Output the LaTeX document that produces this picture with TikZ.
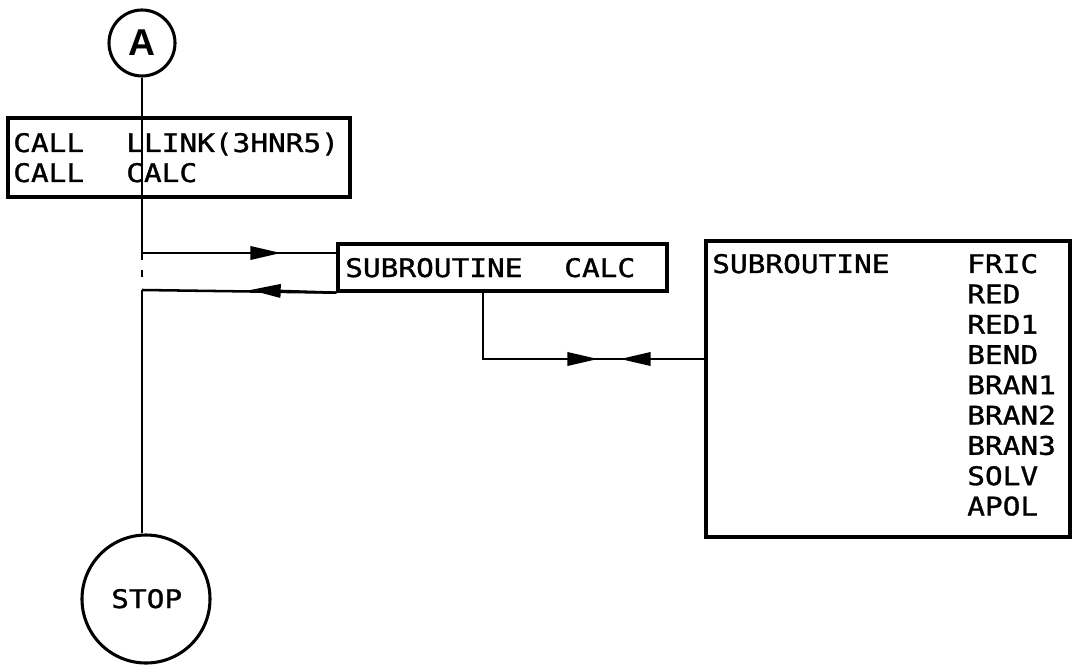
\documentclass[tikz,border=0pt]{standalone}
\usepackage{fontspec}
\newfontfamily\monoft[FakeStretch=1.15,FakeBold=1.2]{DejaVu Sans Mono}
\newfontfamily\boldsf{Liberation Sans}
\usetikzlibrary{arrows.meta,fit}
\begin{document}
\begin{tikzpicture}[x=0.75pt,y=-0.75pt, line width=1.9pt,
  boxst/.style={draw, line width=2.5pt, inner sep=0pt},
  txt/.style={font=\monoft\fontsize{19.2pt}{22pt}\selectfont, inner sep=0pt, anchor=base west},
  tipst/.style={-{Triangle[length=23pt,width=10pt]}},
  termst/.style={circle, draw, line width=2.3pt, inner sep=0pt}]
\useasboundingbox (0,0) rectangle (1073,666);

% terminals
\node[termst, minimum size=49.5pt, font=\boldsf\bfseries\fontsize{28pt}{28pt}\selectfont] (A) at (142,43) {A};
\node[termst, minimum size=96pt] (stop) at (146,599) {};
\node[txt] (stoplab) at (110,608) {STOP};

% box 1
\coordinate (b1a) at (8,118);
\coordinate (b1b) at (350,197);
\node[boxst, fit=(b1a)(b1b)] (box1) {};
\node[txt] (c1a) at (12,152) {CALL};
\node[txt] (c1b) at (125,152) {LLINK(3HNR5)};
\node[txt] (c2a) at (12,182) {CALL};
\node[txt] (c2b) at (125,182) {CALC};

% box 2
\coordinate (b2a) at (338,244);
\coordinate (b2b) at (667,291);
\node[boxst, fit=(b2a)(b2b)] (box2) {};
\node[txt] (s2a) at (344,277) {SUBROUTINE};
\node[txt] (s2b) at (563,277) {CALC};

% box 3
\coordinate (b3a) at (706,241);
\coordinate (b3b) at (1070,537);
\node[boxst, fit=(b3a)(b3b)] (box3) {};
\node[txt] (s3) at (711,273) {SUBROUTINE};
\foreach \n [count=\i from 0] in {FRIC,RED,RED1,BEND,BRAN1,BRAN2,BRAN3,SOLV,APOL}
  \node[txt] (r\i) at (966,273+30.3*\i) {\n};

% main flow line
\coordinate (g1) at (142,260);
\coordinate (g2) at (142,270);
\coordinate (g3) at (142,277);
\coordinate (callpt) at (142,253);
\coordinate (retpt) at (142,290);
\draw (A.south) -- (box1.south -| A) ;
\draw (box1.south -| A) -- (g1);
\draw (g2) -- (g3);
\draw (retpt) -- (stop.north -| retpt);

% call / return
\coordinate (t1) at (281,253);
\coordinate (t2) at (250,290);
\draw (callpt) -- (box2.west |- callpt);
\draw[tipst] (callpt) -- (t1);
\draw (box2.south west) -- (retpt);
\draw[tipst] (box2.south west) -- (t2);

% calc to library
\coordinate (k1) at (483,359);
\coordinate (t3) at (598,359);
\coordinate (t4) at (620,359);
\draw (box2.south -| k1) -- (k1) -- (box3.west |- k1);
\draw[tipst] (k1) -- (t3);
\draw[tipst] (box3.west |- k1) -- (t4);
\end{tikzpicture}
\end{document}
